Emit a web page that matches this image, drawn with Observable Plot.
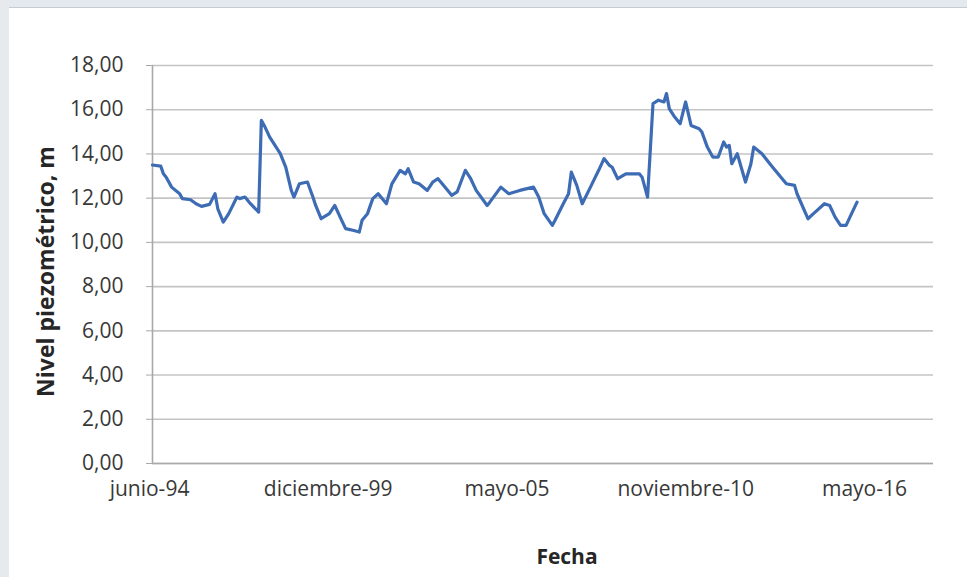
<!DOCTYPE html>
<html><head><meta charset="utf-8">
<script src="https://cdn.jsdelivr.net/npm/d3@7"></script>
<script src="https://cdn.jsdelivr.net/npm/@observablehq/plot@0.6"></script>
<style>
body{margin:0;background:#fff;}
#wrap{position:relative;width:967px;height:577px;overflow:hidden;background:#fff;}
#topband{position:absolute;left:0;top:0;width:967px;height:7px;background:#e3e9ee;border-bottom:1px solid #c6cbd0;}
#leftband{position:absolute;left:0;top:0;width:9px;height:577px;background:#e6eaed;}
#chart{position:absolute;left:0;top:0;}
</style></head><body>
<div id="wrap"><div id="topband"></div><div id="leftband"></div><div id="chart"></div></div>
<script>
const dates = [
 "1994-06","1994-09","1994-10","1994-11",
 "1995-01","1995-04","1995-05","1995-08","1995-10","1995-12",
 "1996-03","1996-05","1996-06","1996-08","1996-10",
 "1997-01","1997-02","1997-04","1997-06","1997-09","1997-10","1997-11",
 "1998-01","1998-05","1998-07","1998-09","1998-10","1998-12",
 "1999-03","1999-05","1999-06","1999-08","1999-11",
 "2000-01","2000-03","2000-05","2000-08","2000-10","2000-11",
 "2001-01","2001-03","2001-05","2001-08","2001-10",
 "2002-01","2002-03","2002-04","2002-06","2002-08","2002-11",
 "2003-01","2003-03","2003-05","2003-08","2003-10",
 "2004-01","2004-03","2004-05","2004-09","2004-10",
 "2005-02","2005-05","2005-09",
 "2006-02","2006-04","2006-06","2006-09","2006-10",
 "2007-01","2007-03","2007-04","2007-06","2007-08","2007-11",
 "2008-02","2008-04","2008-06","2008-07","2008-09","2008-12",
 "2009-05","2009-06","2009-08","2009-10","2009-12",
 "2010-02","2010-03","2010-04","2010-06","2010-08","2010-10","2010-12",
 "2011-03","2011-04","2011-06","2011-08","2011-10","2011-12",
 "2012-01","2012-02","2012-03","2012-05","2012-08","2012-10","2012-11",
 "2013-02","2013-06","2013-11",
 "2014-02","2014-03","2014-07","2014-09",
 "2015-01","2015-03","2015-05","2015-07","2015-09","2015-11",
 "2016-01"
];
const levels = [
 13.50,13.45,13.10,12.95,
 12.50,12.20,11.98,11.93,11.75,11.63,
 11.72,12.20,11.52,10.92,11.30,
 12.05,11.98,12.05,11.75,11.37,15.52,15.30,
 14.77,14.01,13.40,12.35,12.05,12.65,
 12.73,12.05,11.67,11.07,11.30,
 11.67,11.14,10.62,10.54,10.47,11.00,
 11.30,11.98,12.20,11.75,12.65,
 13.26,13.10,13.33,12.73,12.65,12.35,
 12.73,12.88,12.58,12.13,12.28,
 13.26,12.88,12.35,11.67,11.82,
 12.50,12.20,12.35,
 12.50,12.05,11.30,10.77,11.00,
 11.75,12.20,13.18,12.58,11.75,12.50,
 13.26,13.79,13.48,13.40,12.88,13.10,
 13.10,12.95,12.05,16.28,16.43,
 16.35,16.73,16.05,15.67,15.37,16.35,15.29,
 15.14,14.99,14.31,13.86,13.86,14.54,
 14.31,14.39,13.56,14.01,12.73,13.56,14.31,
 14.01,13.40,12.65,
 12.58,12.20,11.07,11.30,
 11.75,11.67,11.14,10.77,10.77,11.30,
 11.82
];
const yTicks = [0,2,4,6,8,10,12,14,16,18];
const xTickDates = ["1994-06-15","1999-12-06","2005-05-29","2010-11-19","2016-05-11"];
const xTickLabels = ["junio-94","diciembre-99","mayo-05","noviembre-10","mayo-16"];
const xDomain = ["1994-06-15","2018-05-20"];
const yLabel = "Nivel piezométrico, m";
const xLabel = "Fecha";

const data = dates.map((d,i)=>({date:new Date(d+"-15"), level:levels[i]}));
const tickDates = xTickDates.map(d=>new Date(d));
const domainDates = xDomain.map(d=>new Date(d));
const fmtY = d => d3.format(".2f")(d).replace(".", ",");
const fmtX = d => xTickLabels[tickDates.findIndex(t=>+t===+d)];

const plot = Plot.plot({
  width:967, height:577,
  marginLeft:152, marginRight:34, marginTop:65, marginBottom:114,
  style:{fontFamily:"'Open Sans', sans-serif", fontSize:"21px", color:"#333", background:"transparent", overflow:"visible"},
  x:{type:"utc", domain: domainDates},
  y:{domain:[0,18]},
  marks:[
    Plot.gridY(yTicks,{stroke:"#c4c4c4", strokeOpacity:1, strokeWidth:1.6}),
    Plot.ruleY([0],{stroke:"#a9a9a9", strokeWidth:1.6}),
    Plot.ruleX([domainDates[0]],{stroke:"#a9a9a9", strokeWidth:1.6}),
    Plot.axisY(yTicks,{tickSize:6, tickPadding:23, tickFormat:fmtY, label:null, stroke:"#a9a9a9", fill:"#383838", fontSize:21}),
    Plot.axisX(tickDates,{tickSize:0, tickPadding:18, tickFormat:fmtX, label:null, fill:"#383838", fontSize:21, dx:-3}),
    Plot.line(data,{x:"date", y:"level", stroke:"#3d6cb5", strokeWidth:3.2, strokeLinejoin:"round"}),
    Plot.text([xLabel],{frameAnchor:"bottom", lineAnchor:"middle", dx:24, dy:94, fontWeight:"bold", fontSize:21, fill:"#262626"}),
    Plot.text([yLabel],{frameAnchor:"left", lineAnchor:"middle", textAnchor:"middle", rotate:-90, dx:-106, dy:7, fontWeight:"bold", fontSize:23, fill:"#262626"})
  ]
});
document.getElementById("chart").appendChild(plot);
</script>
</body></html>
